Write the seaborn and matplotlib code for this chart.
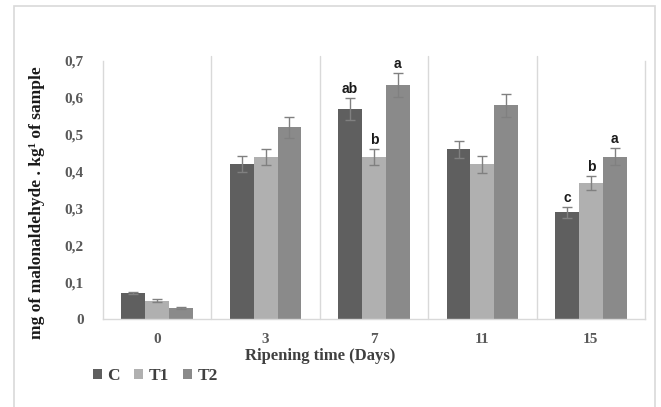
import matplotlib
matplotlib.use("Agg")
import matplotlib.pyplot as plt
import seaborn as sns
import pandas as pd
from matplotlib.patches import Rectangle, Patch
from matplotlib.ticker import FuncFormatter

# --- data ---
days = ["0", "3", "7", "11", "15"]
treatments = ["C", "T1", "T2"]
c_vals = [0.07, 0.42, 0.57, 0.46, 0.29]
t1_vals = [0.05, 0.44, 0.44, 0.42, 0.37]
t2_vals = [0.03, 0.52, 0.635, 0.58, 0.44]
c_err = [0.003, 0.022, 0.03, 0.022, 0.015]
t1_err = [0.003, 0.022, 0.022, 0.023, 0.019]
t2_err = [0.003, 0.029, 0.032, 0.031, 0.023]
c_letters = ["", "", "ab", "", "c"]
t1_letters = ["", "", "b", "", "b"]
t2_letters = ["", "", "a", "", "a"]
colors = ["#5f5f5f", "#b0b0b0", "#8a8a8a"]

df = pd.DataFrame({
    "day": days * 3,
    "treatment": [t for t in treatments for _ in days],
    "value": c_vals + t1_vals + t2_vals,
    "err": c_err + t1_err + t2_err,
    "letter": c_letters + t1_letters + t2_letters,
})

sns.set_style("white")
plt.rcParams['font.family'] = ['Liberation Serif', 'DejaVu Serif']

fig = plt.figure(figsize=(6.61, 4.07), dpi=100)
ax = fig.add_axes([103 / 661, 1 - 319 / 407, (645 - 103) / 661, (319 - 61) / 407])

sns.barplot(data=df, x="day", y="value", hue="treatment", order=days,
            hue_order=treatments, palette=colors, width=0.66, errorbar=None,
            saturation=1, legend=False, edgecolor="none", ax=ax)

# error bars + significance letters, matched to bars by position
for p in ax.patches:
    cx = p.get_x() + p.get_width() / 2
    cat = int(round(cx))
    hidx = int(round((cx - cat) / p.get_width())) + 1
    row = df[(df["day"] == days[cat]) & (df["treatment"] == treatments[hidx])].iloc[0]
    h = row["value"]
    ax.errorbar(cx, h, yerr=row["err"], fmt="none", ecolor="#808080",
                elinewidth=1, capsize=3.5, capthick=1)
    if row["letter"]:
        ax.annotate(row["letter"], (cx, h + row["err"]), xytext=(0, 1.5),
                    textcoords="offset points", ha="center", va="bottom",
                    fontfamily="Liberation Sans", fontweight="bold",
                    fontsize=10, color="#1a1a1a")

ax.set_xlim(-0.5, 4.5)
ax.set_ylim(0, 0.7)
ax.set_yticks([0, 0.1, 0.2, 0.3, 0.4, 0.5, 0.6, 0.7])
ax.yaxis.set_major_formatter(FuncFormatter(
    lambda v, _: "0" if abs(v) < 1e-9 else f"{v:.1f}".replace(".", ",")))
ax.set_xlabel("")
ax.set_ylabel("")
ax.tick_params(axis="y", length=0, pad=14, labelsize=11, labelcolor="#595959")
ax.tick_params(axis="x", length=0, pad=10, labelsize=11, labelcolor="#595959")
for lab in ax.get_xticklabels() + ax.get_yticklabels():
    lab.set_fontweight("bold")

for x in [0.5, 1.5, 2.5, 3.5]:
    ax.axvline(x, ymin=0, ymax=1.02, color="#d9d9d9", lw=1, clip_on=False, zorder=0)
ax.spines["top"].set_visible(False)
for s in ["left", "bottom", "right"]:
    ax.spines[s].set_color("#d9d9d9")
    ax.spines[s].set_linewidth(1)

fig.text(37 / 661, 1 - 203 / 407, "mg of malonaldehyde . kg¹ of sample",
         rotation=90, ha="center", va="center", fontsize=12.5,
         fontweight="bold", color="#1a1a1a")
fig.text(320 / 661, 1 - 356 / 407, "Ripening time (Days)", ha="center",
         va="center", fontsize=12, fontweight="bold", color="#404040")

handles = [Patch(facecolor=c, edgecolor="none") for c in colors]
fig.legend(handles, treatments, loc="center left",
           bbox_to_anchor=(77 / 661, 1 - 376 / 407), ncol=3, frameon=False,
           handlelength=0.55, handleheight=0.55, handletextpad=0.3,
           columnspacing=0.8, prop={"family": "Liberation Serif",
                                    "weight": "bold", "size": 12.5},
           labelcolor="#404040")

fig.patches.append(Rectangle((14 / 661, -0.05), (655 - 14) / 661,
                             0.05 + 1 - 6 / 407, transform=fig.transFigure,
                             fill=False, edgecolor="#d9d9d9", lw=1.2))

fig.savefig("out.png", dpi=100)
